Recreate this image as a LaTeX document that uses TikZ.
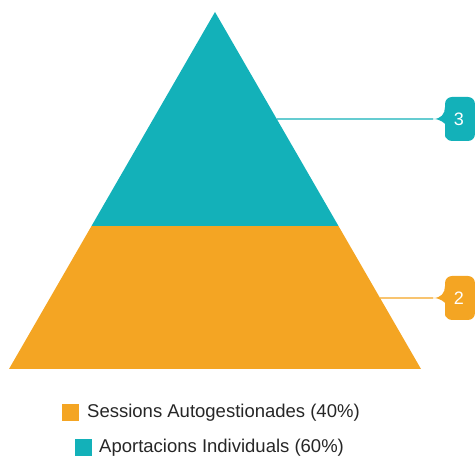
\documentclass[tikz,border=0pt]{standalone}
\usepackage{fontspec}
\setmainfont{Liberation Sans}
\usetikzlibrary{calc}
\definecolor{pyrorange}{HTML}{F4A523}
\definecolor{pyrteal}{HTML}{13B1B9}
\newcommand\pyrtag[3]{%
  \fill[#1] (433,#2) .. controls (441,#2) and (445,#2-5) .. (445,#2-12)
    [rounded corners=7pt] -- (445,#2-22) -- (475,#2-22) -- (475,#2+22) -- (445,#2+22) -- (445,#2+12)
    [sharp corners] .. controls (445,#2+5) and (441,#2) .. (433,#2) -- cycle;
  \coordinate (#3) at (433,#2);
}
\tikzset{
  tagnum/.style={text=white,font=\fontsize{18}{18}\selectfont,inner sep=0pt},
  tagline/.style={line width=1.1pt},
  legendbox/.style={minimum size=17pt,inner sep=0pt},
  legendtext/.style={anchor=west,inner sep=0pt,text=black!85,font=\fontsize{18.5}{20}\selectfont}
}
\begin{document}
\begin{tikzpicture}[x=1pt,y=-1pt]
\useasboundingbox (0,0) rectangle (475,462);
\coordinate (apex) at (215,12);
\coordinate (bl) at (9,369);
\coordinate (br) at (421,369);
\coordinate (ml) at ($(apex)!0.6!(bl)$);
\coordinate (mr) at ($(apex)!0.6!(br)$);
\fill[pyrteal] (apex) -- (mr) -- (ml) -- cycle;
\fill[pyrorange] (ml) -- (mr) -- (br) -- (bl) -- cycle;

\coordinate (e3) at ($(apex)!0.2997!(br)$);
\coordinate (e2) at ($(apex)!0.8011!(br)$);
\pyrtag{pyrteal}{119}{t3}
\pyrtag{pyrorange}{298}{t2}
\node[tagnum] (n3) at (459,119) {3};
\node[tagnum] (n2) at (459,298) {2};
\draw[tagline,pyrteal] (e3) -- (t3);
\draw[tagline,pyrorange] (e2) -- (t2);

\node[legendbox,fill=pyrorange] (k2) at (70.5,412.5) {};
\node[legendtext] (l2) at (87,413) {Sessions Autogestionades (40\%)};
\node[legendbox,fill=pyrteal] (k3) at (83.5,448) {};
\node[legendtext] (l3) at (99,448) {Aportacions Individuals (60\%)};
\end{tikzpicture}
\end{document}
